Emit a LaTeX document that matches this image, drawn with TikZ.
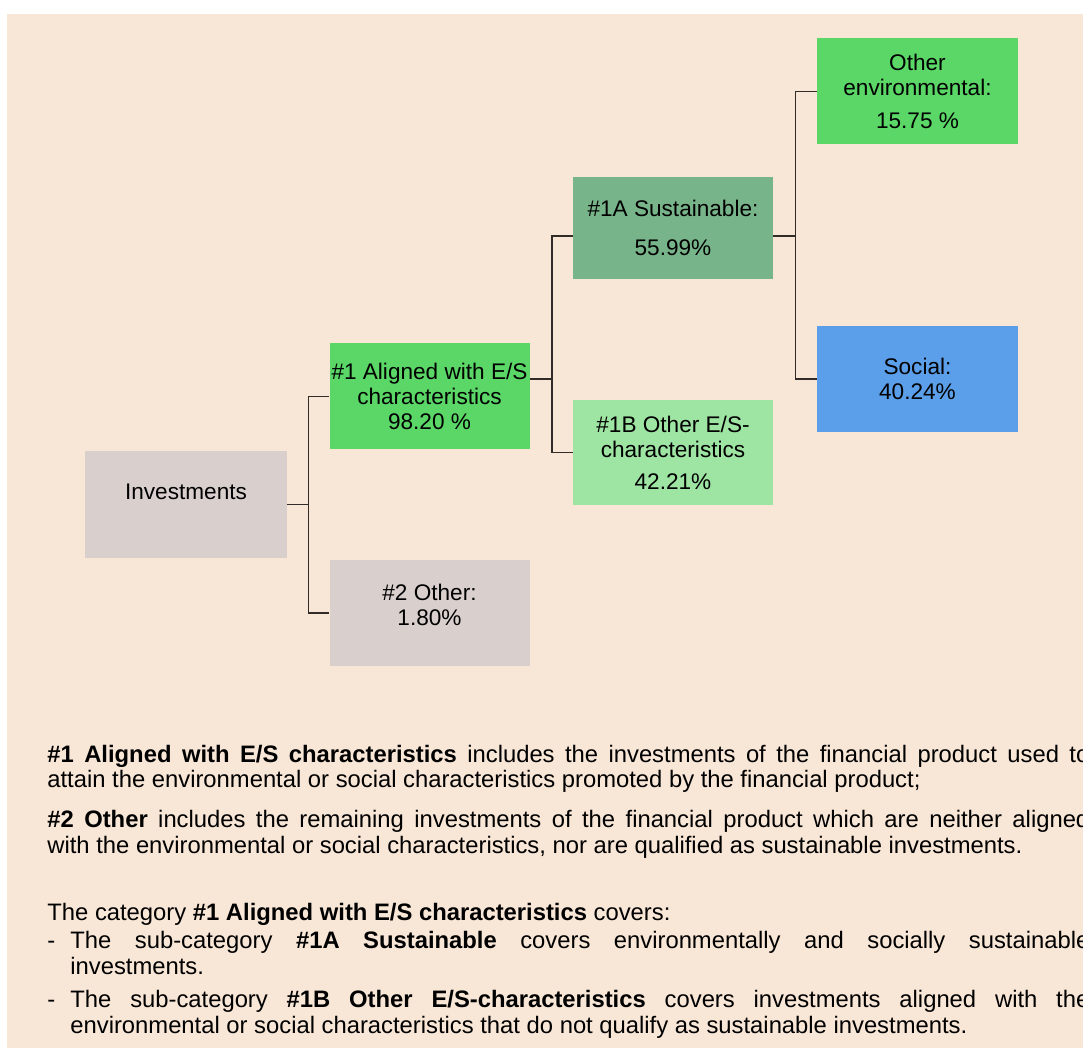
\documentclass[tikz,border=0pt]{standalone}
\usepackage{fontspec}
\setmainfont{Liberation Sans}
\usepackage{tikz}
\definecolor{sheet}{RGB}{248,230,214}
\definecolor{greybox}{RGB}{217,208,206}
\definecolor{esgreen}{RGB}{90,215,102}
\definecolor{sagegreen}{RGB}{120,180,138}
\definecolor{palegreen}{RGB}{158,228,162}
\definecolor{socblue}{RGB}{91,159,234}
\definecolor{wire}{RGB}{50,44,40}

\begin{document}
\begin{tikzpicture}[
  x=0.5pt,
  y=-0.5pt,
  cat/.style={minimum width=100pt,minimum height=53pt,inner sep=1pt,align=center,font=\fontsize{11.3}{12.5}\selectfont},
  link/.style={draw=wire,line width=0.7pt},
  note/.style={anchor=base west,inner sep=0pt,font=\fontsize{11.9}{13}\selectfont},
  para/.style={note,text width=521pt,align=justify}
]
\fill[white] (0,0) rectangle (1083,1048);
\useasboundingbox (0,0) rectangle (1083,1048);
\clip (0,0) rectangle (1083,1048);
\fill[sheet] (7,14) rectangle (1083,1048);
\node[cat,fill=greybox,minimum width=101pt] (inv) at (186,504.5) {Investments\\\mbox{}};
\node[cat,fill=esgreen] (a1) at (429.5,396.5) {\#1 Aligned with E/S\\characteristics\\98.20 \%};
\node[cat,fill=greybox] (oth) at (429.5,613) {\#2 Other:\\1.80\%\\[-4pt]\mbox{}};
\node[cat,fill=sagegreen,minimum height=51pt] (s1a) at (673,228) {\#1A Sustainable:\\[7pt]55.99\%};
\node[cat,fill=palegreen,minimum height=52.5pt] (o1b) at (673,452.5) {\#1B Other E/S-\\characteristics\\[3.5pt]42.21\%};
\node[cat,fill=esgreen,minimum width=100.5pt] (env) at (917.5,91.5) {Other\\environmental:\\[4pt]15.75 \%};
\node[cat,fill=socblue,minimum width=100.5pt] (soc) at (917.5,379) {Social:\\40.24\%};
\draw[link] (inv.east) -- ++(21,0) |- (a1.west);
\draw[link] (inv.east) -- ++(21,0) |- (oth.west);
\draw[link] ([yshift=8.75pt]a1.east) -- ++(22,0) |- ([yshift=-4pt]s1a.west);
\draw[link] ([yshift=8.75pt]a1.east) -- ++(22,0) |- (o1b.west);
\draw[link] ([yshift=-4pt]s1a.east) -- ++(22,0) |- (env.west);
\draw[link] ([yshift=-4pt]s1a.east) -- ++(22,0) |- (soc.west);
\node[para] (p1) at (47,762) {\textbf{\#1 Aligned with E/S characteristics} includes the investments of the financial product used to\linebreak attain the environmental or social characteristics promoted by the financial product;};
\node[para] (p2) at (47,827) {\textbf{\#2 Other} includes the remaining investments of the financial product which are neither aligned\linebreak with the environmental or social characteristics, nor are qualified as sustainable investments.};
\node[note] (p3) at (47,920) {The category \textbf{\#1 Aligned with E/S characteristics} covers:};
\node[note] (d1) at (47,948) {-};
\node[para,text width=509.5pt] (b1) at (70,948) {The sub-category \textbf{\#1A Sustainable} covers environmentally and socially sustainable\linebreak investments.};
\node[note] (d2) at (47,1007) {-};
\node[para,text width=509.5pt] (b2) at (70,1007) {The sub-category \textbf{\#1B Other E/S-characteristics} covers investments aligned with the\linebreak environmental or social characteristics that do not qualify as sustainable investments.};
\end{tikzpicture}
\end{document}
